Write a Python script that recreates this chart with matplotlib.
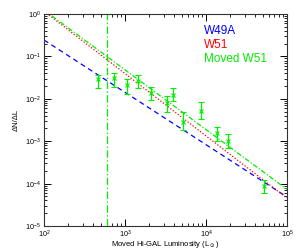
import numpy as np
import matplotlib
matplotlib.use("Agg")
import matplotlib.pyplot as plt
from matplotlib.ticker import LogLocator, NullFormatter

plt.rcParams['font.family'] = ['Liberation Sans', 'DejaVu Sans']

# Data points (Moved W51)
lum = [464, 731, 1059, 1445, 2090, 3300, 3900, 5200, 8700, 13700, 18700, 52000]
dndl = [0.0293, 0.031, 0.0211, 0.0263, 0.0137, 0.0079, 0.0123, 0.00284, 0.00515, 0.00156, 0.00101, 8.8e-5]
err_hi = [0.0364, 0.0407, 0.0293, 0.0364, 0.019, 0.0116, 0.018, 0.0049, 0.0084, 0.00216, 0.00148, 1.2e-4]
err_lo = [0.018, 0.019, 0.013, 0.018, 0.0094, 0.0049, 0.0089, 0.00184, 0.00334, 0.00101, 0.00069, 6.0e-5]

# Power-law fits: value at L=1e3 and slope
fit_names = ['W49A', 'W51', 'Moved W51']
fit_norm = [0.0142, 0.0394, 0.0483]
fit_slope = [-1.234, -1.47, -1.41]
fit_colors = ['#0000ff', '#ff0000', '#00ee00']
fit_styles = [(0, (4, 3)), (0, (1, 1.5)), (0, (4, 1.5, 1, 1.5))]
vline_L = 600

fig = plt.figure(figsize=(3.0, 2.5), dpi=100)
ax = fig.add_axes([44/300, 24/250, 243/300, 212/250])

Lgrid = np.logspace(2, 5, 200)
for n, s, c, ls in zip(fit_norm, fit_slope, fit_colors, fit_styles):
    ax.plot(Lgrid, n * (Lgrid / 1e3) ** s, color=c, ls=ls, lw=0.9)

ax.axvline(vline_L, color='#00ee00', ls=(0, (6, 2, 1, 2)), lw=0.9)

d = np.array(dndl)
yerr = [d - np.array(err_lo), np.array(err_hi) - d]
ax.errorbar(lum, dndl, yerr=yerr, fmt='x', color='#00ee00', ms=3, mew=0.8,
            elinewidth=0.9, capsize=2, capthick=0.8)

ax.set_xscale('log')
ax.set_yscale('log')
ax.set_xlim(1e2, 1e5)
ax.set_ylim(1e-5, 1e0)

ax.tick_params(which='both', direction='in', top=True, right=True, labelsize=5.2)
ax.tick_params(axis='x', pad=2)
ax.tick_params(axis='y', pad=2.5)
ax.tick_params(which='major', length=5, width=0.7)
ax.tick_params(which='minor', length=2.5, width=0.6)
ax.xaxis.set_minor_locator(LogLocator(base=10, subs=np.arange(2, 10), numticks=20))
ax.yaxis.set_minor_locator(LogLocator(base=10, subs=np.arange(2, 10), numticks=20))
ax.xaxis.set_minor_formatter(NullFormatter())
ax.yaxis.set_minor_formatter(NullFormatter())
for sp in ax.spines.values():
    sp.set_linewidth(0.8)
    sp.set_color('#333333')

ax.set_xlabel('Moved Hi-GAL Luminosity (L$_\\odot$)', fontsize=5.5)
ax.xaxis.set_label_coords(0.5, -0.062)
ax.set_ylabel('ΔN/ΔL', fontsize=5.5)
ax.yaxis.set_label_coords(-0.1, 0.5)

for i, (name, c) in enumerate(zip(fit_names, fit_colors)):
    ax.text(0.66, 0.95 - i * 0.066, name, color=c, fontsize=8.5,
            transform=ax.transAxes, va='top', ha='left')

fig.savefig('out.png', dpi=100)
